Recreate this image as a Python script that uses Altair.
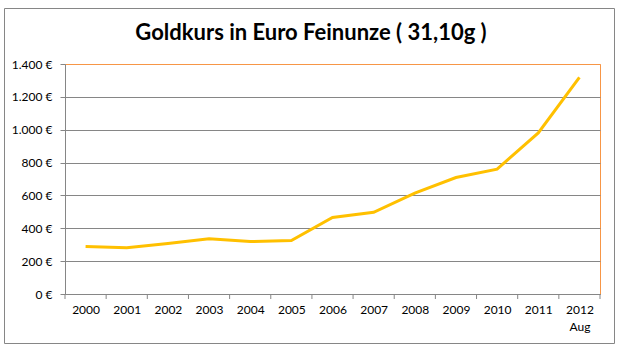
import altair as alt
import pandas as pd

# ---- data ----
years = ["2000", "2001", "2002", "2003", "2004", "2005", "2006",
         "2007", "2008", "2009", "2010", "2011", "2012"]
year_sublabels = ["", "", "", "", "", "", "", "", "", "", "", "", "Aug"]
prices = [289, 282, 308, 336, 319, 326, 466, 497, 614, 709, 760, 980, 1319]
y_ticks = [0, 200, 400, 600, 800, 1000, 1200, 1400]
title_text = "Goldkurs in Euro Feinunze ( 31,10g )"

W, H = 535, 230
GRAY = "#868686"
ORANGE = "#F79646"
GOLD = "#FFC000"
FONT = "Lato"

n = len(years)
df = pd.DataFrame({"idx": list(range(n)), "year": years, "price": prices})
bounds = pd.DataFrame({"b": [i - 0.5 for i in range(n + 1)]})

# label expression built from the label lists
parts = []
for y, s in zip(years, year_sublabels):
    parts.append(f"['{y}','{s}']" if s else f"'{y}'")
label_expr = "[" + ",".join(parts) + "][datum.value]"

x_scale = alt.Scale(domain=[-0.5, n - 0.5], nice=False, zero=False)
y_scale = alt.Scale(domain=[min(y_ticks), max(y_ticks)], nice=False)

line = alt.Chart(df).mark_line(color=GOLD, strokeWidth=3).encode(
    x=alt.X("idx:Q", scale=x_scale, title=None,
            axis=alt.Axis(values=list(range(n)), ticks=False, tickSize=0,
                          grid=False, domainColor=GRAY, labelExpr=label_expr,
                          labelFont=FONT, labelFontSize=12, labelColor="#000",
                          labelPadding=10, labelLineHeight=17,
                          labelBaseline="top")),
    y=alt.Y("price:Q", scale=y_scale, title=None,
            axis=alt.Axis(values=y_ticks, tickSize=5, tickColor=GRAY,
                          domainColor=GRAY,
                          gridColor=alt.condition(f"datum.value == {max(y_ticks)}",
                                                  alt.value(ORANGE), alt.value(GRAY)),
                          labelExpr="replace(format(datum.value, ','), ',', '.') + ' €'",
                          labelFont=FONT, labelFontSize=12, labelColor="#000",
                          labelPadding=8)),
)

ticks = alt.Chart(bounds).mark_rule(color=GRAY, strokeWidth=1).encode(
    x=alt.X("b:Q", scale=x_scale),
    y=alt.value(H),
    y2=alt.value(H + 5),
)

one = pd.DataFrame({"t": [title_text]})
border = alt.Chart(one).mark_rect(fillOpacity=0, stroke=GRAY, strokeWidth=1).encode(
    x=alt.value(-60.5), x2=alt.value(549.5),
    y=alt.value(-55.5), y2=alt.value(279.5),
)

title = alt.Chart(one).mark_text(font=FONT, fontSize=22, fontWeight="bold",
                                 color="#000", align="center",
                                 baseline="middle").encode(
    text="t:N", x=alt.value(246), y=alt.value(-31),
)

chart = alt.layer(border, title, line, ticks).properties(
    width=W, height=H,
    autosize=alt.AutoSizeParams(type="none"),
    padding={"left": 65, "top": 64, "right": 20, "bottom": 58},
    background="white",
).configure_view(stroke=ORANGE, strokeWidth=1)

chart.save("out.html", embed_options={"renderer": "svg", "actions": False})
